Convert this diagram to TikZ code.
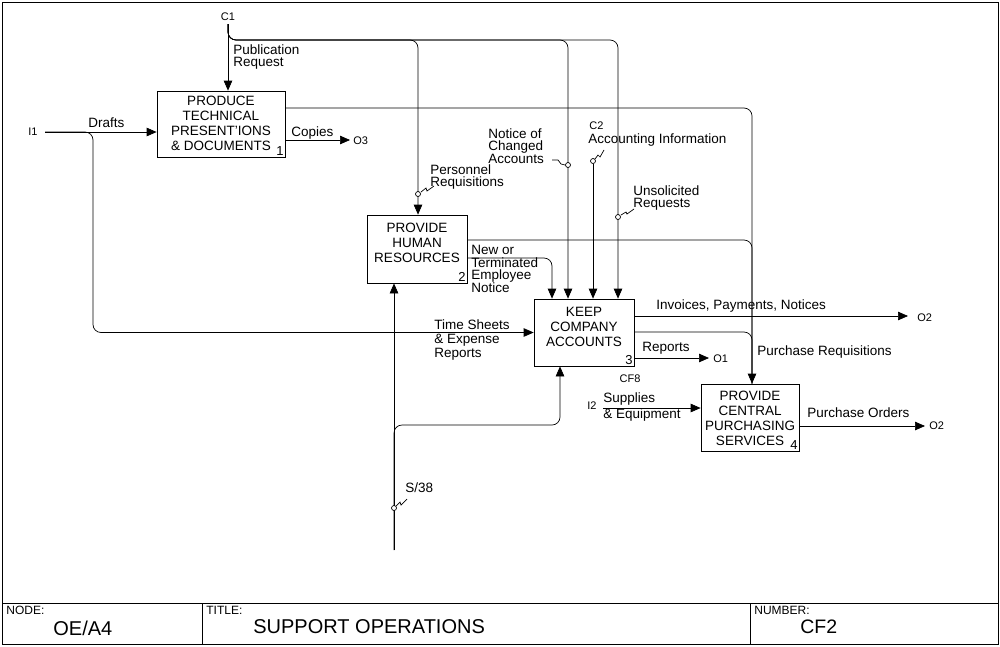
\documentclass[tikz,border=0pt]{standalone}
\usepackage{fontspec}
\setmainfont{Liberation Sans}
\usetikzlibrary{arrows.meta}

\tikzset{
  fn/.style={draw,inner sep=0pt},
  fntxt/.style={align=center,inner sep=0pt,font=\fontsize{13.5}{15}\selectfont},
  num/.style={anchor=south east,inner sep=1.5pt,font=\fontsize{13}{13}\selectfont},
  lbl/.style={align=left,anchor=west,inner sep=0pt,font=\fontsize{13.5}{12}\selectfont},
  tag/.style={inner sep=0pt,font=\fontsize{11}{11}\selectfont},
  arr/.style={-{Triangle[length=10pt,width=8.5pt]}},
  wire/.style={rounded corners=8pt},
  tunnel/.style={draw,circle,fill=white,inner sep=0pt,minimum size=5pt},
}

\begin{document}
\begin{tikzpicture}[x=1pt,y=-1pt,line width=0.7pt]
\useasboundingbox (0,0) rectangle (1000,646);

\node[fn,minimum width=128pt,minimum height=66pt] (b1) at (221,124) {};
\node[fntxt] (t1) at ([yshift=0.5]b1.center) {PRODUCE\\TECHNICAL\\PRESENT'IONS\\\& DOCUMENTS};
\node[num] (n1) at (b1.south east) {1};
\node[fn,minimum width=100pt,minimum height=68pt] (b2) at (417,249) {};
\node[fntxt] (t2) at ([yshift=6]b2.center) {PROVIDE\\HUMAN\\RESOURCES};
\node[num] (n2) at (b2.south east) {2};
\node[fn,minimum width=100pt,minimum height=67pt] (b3) at (584,332.5) {};
\node[fntxt] (t3) at ([yshift=5.5]b3.center) {KEEP\\COMPANY\\ACCOUNTS};
\node[num] (n3) at (b3.south east) {3};
\node[fn,minimum width=98pt,minimum height=67pt] (b4) at (750,417.5) {};
\node[fntxt] (t4) at ([yshift=-1]b4.center) {PROVIDE\\CENTRAL\\PURCHASING\\SERVICES};
\node[num] (n4) at (b4.south east) {4};

% controls
\coordinate (c1) at (228,24);
\coordinate (bus) at (228,40);
\draw[arr] (c1) -- (c1 |- b1.north);
\draw[arr,wire] (c1) -- (bus) -| ([xshift=1]b2.north);
\draw[arr,wire] (c1) -- (bus) -| ([xshift=-16]b3.north);
\draw[arr,wire] (c1) -- (bus) -| ([xshift=34]b3.north);
\node[tunnel] (tc2) at (593,161) {};
\draw[arr] (tc2) -- (tc2 |- b3.north);

% inputs
\coordinate (i1) at (45,132);
\coordinate (dr) at (93,132);
\draw[arr] (i1) -- (i1 -| b1.west);
\draw[arr,wire] (i1) -- (dr) |- (b3.west);
\draw[arr,wire] ([yshift=-9]b2.east) -| ([xshift=-32]b3.north);
\coordinate (i2) at (603,408);
\draw[arr] (i2) -- (i2 -| b4.west);

% outputs
\coordinate (o3) at (350,140);
\draw[arr] (b1.east |- o3) -- (o3);
\draw[arr,wire] ([yshift=16]b1.east) -| ([xshift=2]b4.north);
\draw[wire] ([yshift=9]b2.east) -| ([xshift=2]b4.north);
\draw[wire] ([yshift=0.5]b3.east) -| ([xshift=2]b4.north);
\coordinate (o2a) at (908,316);
\draw[arr] (b3.east |- o2a) -- (o2a);
\coordinate (o1) at (709,358);
\draw[arr] (b3.east |- o1) -- (o1);
\coordinate (o2b) at (925,426);
\draw[arr] (b4.east |- o2b) -- (o2b);

% mechanism
\coordinate (s38) at (394,550);
\coordinate (mb) at (394,425);
\draw[arr] (s38) -- (s38 |- b2.south);
\draw[arr,wire] (s38) -- (mb) -| ([xshift=-24]b3.south);

% squiggles
\node[tunnel] (tper) at (418,194) {};
\draw (tper) ++(3,-2) -- ++(5,-4) -- ++(1,3) -- ++(7,-5);
\node[tunnel] (tnot) at (568,165) {};
\draw (tnot) ++(-3,0) -- ++(-4,-1) -- ++(-3,-4) -- ++(-6,0);
\draw (tc2) ++(2,-2) -- ++(3,-4) -- ++(2,2) -- ++(4,-7);
\node[tunnel] (tuns) at (618,217) {};
\draw (tuns) ++(3,-2) -- ++(5,-3) -- ++(1,2) -- ++(7,-5);
\node[tunnel] (ts38) at (394,508) {};
\draw (ts38) ++(2,-2) -- ++(4,-4) -- ++(1,3) -- ++(6,-6);

% labels
\node[tag] (lc1) at (228,17) {C1};
\node[tag] (li1) at (33,132) {I1};
\node[tag,anchor=west] (lo3) at (353,141) {O3};
\node[tag,anchor=west] (lc2) at (589,126) {C2};
\node[tag,anchor=west] (lo2a) at (917,318) {O2};
\node[tag,anchor=west] (lo1) at (713,359) {O1};
\node[tag] (lcf8) at (630,379) {CF8};
\node[tag] (li2) at (592,406) {I2};
\node[tag,anchor=west] (lo2b) at (929,426) {O2};

\node[lbl] (lpub) at (233,57) {Publication\\Request};
\node[lbl] (ldr) at (88,123) {Drafts};
\node[lbl] (lcop) at (291,133) {Copies};
\node[lbl] (lper) at (430,177) {Personnel\\Requisitions};
\node[lbl] (lnot) at (488,146) {Notice of\\Changed\\Accounts};
\node[lbl] (lacc) at (588,140) {Accounting Information};
\node[lbl] (luns) at (633,198) {Unsolicited\\Requests};
\node[lbl,font=\fontsize{13.5}{12.7}\selectfont] (lnew) at (471,269) {New or\\Terminated\\Employee\\Notice};
\node[lbl,font=\fontsize{13.5}{14}\selectfont] (ltim) at (434,340) {Time Sheets\\\& Expense\\Reports};
\node[lbl] (linv) at (656,306) {Invoices, Payments, Notices};
\node[lbl] (lrep) at (642,348) {Reports};
\node[lbl] (lpr) at (757,352) {Purchase Requisitions};
\node[lbl,font=\fontsize{13.5}{16}\selectfont] (lsup) at (603,407) {Supplies\\\& Equipment};
\node[lbl] (lpo) at (807,413) {Purchase Orders};
\node[lbl] (ls38) at (405,488) {S/38};

% frame and title block
\draw (2,2) rectangle (998,644);
\draw (2,603) -- (998,603);
\draw (202,603) -- (202,644);
\draw (750,603) -- (750,644);
\node[anchor=west,inner sep=0pt,font=\fontsize{12}{12}\selectfont] (knode) at (6,610) {NODE:};
\node[anchor=west,inner sep=0pt,font=\fontsize{20}{20}\selectfont] (vnode) at (53,628) {OE/A4};
\node[anchor=west,inner sep=0pt,font=\fontsize{12}{12}\selectfont] (ktitle) at (206,610) {TITLE:};
\node[anchor=west,inner sep=0pt,font=\fontsize{20}{20}\selectfont] (vtitle) at (253,627) {SUPPORT OPERATIONS};
\node[anchor=west,inner sep=0pt,font=\fontsize{12}{12}\selectfont] (knum) at (754,610) {NUMBER:};
\node[anchor=west,inner sep=0pt,font=\fontsize{19.5}{19.5}\selectfont] (vnum) at (800,627) {CF2};
\end{tikzpicture}
\end{document}
